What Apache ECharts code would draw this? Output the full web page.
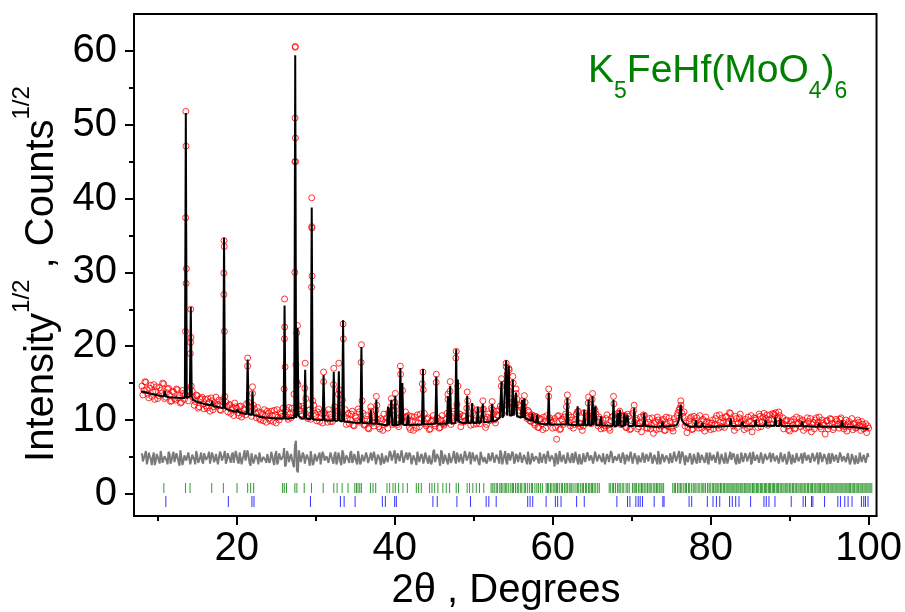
<!DOCTYPE html>
<html>
<head>
<meta charset="utf-8">
<script src="https://cdn.jsdelivr.net/npm/echarts@6/dist/echarts.min.js"></script>
<style>
    html, body { margin: 0; padding: 0; background: #fff; }
    #chart { width: 905px; height: 612px; }
</style>
</head>
<body>
<div id="chart"></div>
<script>
// ---- axis ticks ----
const xMajorTicks = [20, 40, 60, 80, 100];
const xMinorTicks = [10, 30, 50, 70, 90];
const yMajorTicks = [0, 10, 20, 30, 40, 50, 60];
const yMinorTicks = [5, 15, 25, 35, 45, 55];

// ---- observed profile, step scan from 8.00 deg, step 0.25 (two interleaved passes) ----
const scanStart = 8;
const scanStep = 0.25;
const obsY = [
    14.6, 14.0, 15.1, 13.5, 14.3, 13.2, 14.8, 13.9, 12.9, 14.4, 13.6, 14.9, 13.1, 14.2, 13.4, 12.6,
    13.8, 12.7, 14.1, 13.3, 12.4, 13.6, 13.5, 14.0, 13.8, 14.6, 13.1, 12.5, 13.3, 11.8, 12.9, 12.2,
    12.8, 11.6, 12.4, 13.0, 11.4, 12.2, 11.9, 12.7, 11.3, 12.5, 13.2, 11.8, 12.0, 10.9, 11.7, 12.3,
    11.6, 10.6, 11.9, 10.9, 11.3, 12.2, 12.4, 11.0, 13.6, 11.5, 10.3, 11.1, 10.0, 10.8, 11.4, 9.7,
    10.9, 9.9, 10.6, 11.3, 9.6, 10.4, 11.0, 10.5, 14.2, 11.4, 10.1, 10.8, 11.6, 13.5, 17.5, 14.8,
    11.3, 10.5, 11.6, 12.9, 10.2, 11.4, 36.2, 12.0, 10.6, 11.1, 9.8, 10.9, 15.2, 10.6, 9.7, 10.8,
    10.4, 14.8, 11.2, 10.9, 14.1, 11.6, 21.0, 11.4, 10.2, 9.5, 10.8, 9.3, 10.5, 9.9, 11.1, 17.8,
    10.9, 9.4, 10.1, 8.8, 11.2, 9.6, 10.4, 12.0, 9.1, 10.2, 8.6, 9.7, 10.3, 11.0, 11.8, 9.4,
    12.4, 10.0, 9.1, 16.2, 14.0, 9.8, 10.5, 10.6, 8.7, 9.9, 10.4, 8.9, 9.6, 10.8, 14.9, 10.9,
    9.2, 10.3, 8.8, 10.0, 9.5, 15.1, 10.2, 9.0, 10.6, 9.3, 10.1, 12.8, 13.9, 10.3, 11.2, 18.4,
    14.6, 10.8, 9.7, 10.5, 9.9, 12.6, 10.1, 11.7, 9.4, 10.6, 11.4, 9.5, 10.2, 11.5, 9.0, 10.4,
    9.9, 11.6, 10.8, 9.6, 10.7, 11.4, 14.6, 12.1, 14.9, 16.2, 16.8, 12.9, 15.0, 12.2, 12.8, 11.3,
    11.8, 11.0, 12.4, 10.2, 11.1, 9.8, 10.6, 9.3, 10.4, 9.0, 10.1, 8.7, 9.8, 10.6, 13.2, 10.0,
    8.9, 10.2, 7.4, 10.6, 8.8, 9.9, 10.4, 11.8, 10.7, 9.2, 10.0, 9.4, 10.8, 11.2, 9.1, 8.6,
    11.0, 9.6, 12.3, 10.9, 12.8, 11.6, 10.8, 9.2, 10.1, 9.4, 8.9, 10.2, 9.3, 8.6, 10.4, 12.2,
    10.1, 10.9, 11.2, 9.4, 10.6, 9.0, 10.8, 8.7, 9.9, 11.3, 10.0, 8.8, 9.6, 8.4, 10.7, 9.5,
    8.9, 10.2, 9.3, 8.2, 9.8, 10.4, 8.8, 9.6, 10.1, 8.6, 9.4, 10.3, 9.0, 8.5, 9.7, 10.6,
    11.4, 12.0, 10.5, 9.2, 8.3, 9.9, 10.4, 8.8, 9.6, 10.3, 8.9, 9.4, 10.1, 8.5, 9.8, 9.1,
    8.7, 10.0, 9.4, 10.6, 8.9, 9.7, 10.3, 9.0, 10.5, 9.8, 10.9, 9.5, 8.6, 10.2, 9.6, 10.8,
    9.9, 8.7, 9.5, 10.4, 9.1, 8.4, 10.3, 10.0, 9.0, 10.5, 9.7, 10.9, 10.2, 9.3, 10.7, 10.1,
    10.8, 11.0, 10.3, 10.6, 9.6, 8.8, 9.9, 9.2, 8.5, 9.7, 10.1, 8.9, 9.4, 10.2, 9.8, 8.6,
    9.5, 10.3, 9.0, 8.4, 9.7, 10.0, 9.3, 10.4, 8.8, 9.6, 8.1, 9.9, 9.2, 10.1, 8.7, 9.5,
    9.9, 8.9, 10.3, 9.6, 9.1, 8.5, 9.8, 9.3, 8.7, 9.6, 9.0, 9.7, 8.6, 9.4, 9.0, 8.3,
    8.9
];
// second pass, offset by half a step (8.125 .. 99.875)
const obsY2 = [
    13.4, 15.2, 14.1, 13.0, 14.7, 13.8, 12.8, 14.5, 13.3, 14.0, 15.0, 12.9, 13.7, 14.3, 12.5, 13.9,
    12.9, 14.2, 13.0, 12.3, 14.0, 12.8, 30.5, 12.6, 19.0, 13.9, 12.0, 13.4, 11.6, 12.8, 13.1, 11.5,
    11.9, 12.9, 11.2, 12.6, 11.8, 13.1, 12.1, 11.4, 12.6, 29.9, 12.4, 11.1, 12.1, 11.4, 10.6, 11.8,
    11.0, 11.8, 10.4, 11.5, 10.7, 17.3, 11.2, 10.5, 12.0, 10.9, 11.7, 10.2, 11.0, 9.9, 10.6, 11.2,
    10.2, 11.2, 9.8, 10.7, 11.4, 10.0, 10.8, 11.6, 17.2, 10.4, 11.7, 10.3, 11.0, 45.0, 15.1, 11.9,
    10.8, 11.9, 14.3, 10.4, 11.3, 10.1, 12.6, 10.9, 9.9, 11.5, 10.3, 9.6, 11.0, 10.2, 11.4, 9.8,
    9.8, 11.8, 10.6, 13.5, 10.3, 12.7, 10.5, 9.4, 10.9, 10.0, 11.2, 9.2, 10.3, 11.5, 9.7, 12.6,
    9.3, 10.6, 8.9, 9.9, 10.7, 9.2, 11.3, 10.1, 8.8, 9.9, 10.8, 9.5, 8.9, 10.2, 11.3, 9.6,
    11.8, 9.4, 10.9, 10.6, 9.7, 11.1, 10.0, 9.0, 10.5, 8.6, 9.8, 10.7, 9.1, 10.2, 14.1, 9.5,
    10.1, 8.7, 9.8, 10.6, 9.2, 10.3, 8.9, 10.0, 9.5, 9.6, 10.9, 10.6, 9.4, 10.8, 9.9, 12.1,
    10.4, 9.1, 10.6, 9.8, 11.6, 10.2, 9.3, 10.9, 10.0, 9.5, 9.9, 10.7, 11.4, 10.1, 9.4, 10.8,
    10.3, 11.4, 10.0, 11.2, 10.6, 11.9, 10.9, 11.3, 17.2, 14.0, 11.5, 12.4, 11.8, 13.6, 11.0, 12.0,
    12.6, 11.8, 10.7, 11.3, 9.9, 10.7, 9.6, 10.5, 9.0, 10.2, 9.5, 10.4, 8.9, 9.6, 10.3, 9.7,
    9.8, 9.0, 10.5, 8.7, 10.1, 9.4, 10.8, 12.5, 9.6, 10.4, 8.9, 10.1, 11.1, 9.5, 10.3, 9.2,
    9.7, 10.6, 10.6, 9.5, 10.7, 11.3, 9.8, 10.4, 8.8, 10.0, 9.2, 10.7, 8.9, 9.9, 10.5, 9.4,
    10.2, 10.8, 9.4, 10.3, 10.6, 9.0, 10.5, 8.8, 10.9, 9.7, 10.2, 9.1, 10.4, 9.8, 10.6, 8.9,
    9.7, 8.8, 10.3, 9.5, 8.7, 10.0, 9.2, 9.9, 8.6, 10.4, 9.1, 9.8, 8.9, 10.2, 9.4, 11.0,
    11.6, 10.9, 11.1, 9.6, 9.0, 10.2, 8.7, 10.5, 9.8, 9.3, 10.6, 8.9, 9.9, 10.4, 9.0, 9.6,
    9.6, 8.8, 10.2, 9.3, 10.7, 9.1, 9.8, 10.4, 9.5, 11.0, 10.1, 9.2, 10.5, 9.0, 10.3, 9.7,
    9.3, 10.1, 8.9, 9.8, 10.6, 9.4, 10.2, 9.6, 10.8, 9.1, 10.4, 9.9, 10.7, 10.0, 9.5, 10.9,
    10.6, 10.2, 11.1, 9.7, 10.3, 9.4, 10.0, 8.7, 9.9, 9.3, 8.8, 10.4, 9.6, 9.1, 10.0, 9.4,
    8.9, 9.8, 10.2, 9.4, 8.8, 10.3, 9.7, 9.1, 10.0, 9.3, 9.9, 8.8, 10.2, 9.5, 9.0, 10.1,
    9.4, 10.1, 9.2, 8.8, 10.0, 9.5, 9.1, 10.2, 9.4, 8.9, 10.0, 9.2, 9.8, 8.8, 9.5, 9.2
];
// observed points sitting on the narrow reflections [2theta, sqrt(I)]
const obsPeakPts = [
    [13.52, 22.0], [13.54, 37.4], [13.56, 51.8], [13.58, 47.1], [13.6, 28.5],
    [14.17, 20.5], [14.19, 25.0], [14.21, 21.2],
    [18.38, 27.0], [18.4, 34.3], [18.42, 33.5], [18.44, 22.0],
    [21.39, 18.4], [22.0, 14.5],
    [26.04, 21.0], [26.06, 26.4], [26.08, 22.6],
    [27.36, 30.0], [27.39, 50.9], [27.41, 60.5], [27.42, 60.6], [27.43, 48.2], [27.45, 45.0],
    [27.6, 21.8], [27.7, 22.8], [28.67, 17.7],
    [29.48, 28.0], [29.5, 40.1], [29.52, 36.0], [29.54, 29.5],
    [31.0, 16.5], [32.29, 17.0], [32.93, 17.7], [33.47, 23.0], [35.79, 20.2],
    [36.97, 11.8], [37.68, 13.2], [39.58, 12.9], [40.08, 13.6],
    [40.72, 17.3], [43.58, 16.5], [45.27, 16.2], [46.74, 13.5], [47.03, 15.2], [47.79, 19.3],
    [49.18, 13.8], [51.16, 12.6], [52.34, 12.5], [53.52, 15.6], [54.11, 17.7], [54.44, 17.0],
    [54.95, 15.9], [55.37, 14.2], [56.42, 13.3], [59.5, 14.2], [61.86, 13.4], [64.55, 13.1],
    [65.05, 13.6], [67.7, 13.2], [70.32, 12.0], [76.22, 12.6]
];

// ---- calculated profile: background knots + reflections [pos, top, base] ----
const calcBg = [
    [7.9, 13.9], [9, 13.6], [10, 13.35], [11.5, 13.1], [13, 13.0], [14.5, 12.7], [15, 12.45],
    [16, 12.15], [17, 11.9], [18, 11.65], [19, 11.35], [20, 11.1], [21, 10.85], [22.5, 10.6],
    [23, 10.4], [25, 10.2], [26.5, 10.2], [28.2, 10.2], [30, 10.05], [31.5, 9.95], [34.5, 9.7],
    [36.5, 9.55], [38.5, 9.35], [40.4, 9.3], [42.5, 9.35], [44.5, 9.45], [46.2, 9.5],
    [48.6, 9.6], [50.9, 9.65], [52.8, 9.9], [53.3, 10.3], [53.8, 10.6], [55.7, 10.5],
    [56.8, 10.1], [58.5, 9.5], [60.5, 9.4], [63.6, 9.3], [66.8, 9.25], [70.9, 9.2], [73, 9.1],
    [75.7, 9.3], [75.95, 9.9], [76.5, 10.0], [76.7, 9.5], [77.3, 9.1], [80, 9.1], [83, 9.2],
    [87.5, 9.25], [90, 9.2], [95, 9.1], [98, 9.05], [100, 8.8]
];
const peaks = [
    [10.9, 13.9, 13.2], [13.56, 51.6, 13.0], [14.19, 25.3, 13.2], [16.9, 12.6, 12.0],
    [18.4, 34.7, 11.6], [20.1, 11.4, 11.1], [21.39, 18.2, 10.8], [22.0, 13.9, 10.7],
    [26.06, 25.5, 10.2], [27.41, 59.4, 10.3], [27.7, 22.5, 10.6], [28.67, 16.8, 10.2],
    [29.5, 38.8, 10.1], [31.0, 16.1, 10.0], [32.29, 16.5, 9.9], [32.93, 16.6, 9.9],
    [33.47, 23.5, 9.8], [35.79, 19.9, 9.6], [36.97, 11.4, 9.5], [37.68, 12.75, 9.5],
    [39.16, 11.8, 9.3], [39.58, 12.75, 9.3], [40.08, 13.3, 9.3], [40.72, 17.05, 9.4],
    [40.97, 15.0, 9.4], [41.68, 10.7, 9.3], [43.58, 16.9, 9.4], [45.27, 15.9, 9.5],
    [46.74, 13.2, 9.5], [47.03, 14.65, 9.5], [47.79, 19.6, 9.6], [48.0, 15.5, 9.8],
    [49.18, 13.3, 9.6], [49.81, 12.3, 9.6], [50.52, 11.8, 9.6], [51.16, 12.2, 9.7],
    [52.34, 12.2, 9.8], [53.52, 15.2, 10.3], [54.11, 18.1, 10.6], [54.44, 17.3, 10.6],
    [54.95, 15.5, 10.6], [55.37, 13.7, 10.5], [56.13, 12.75, 10.3], [56.42, 12.9, 10.2],
    [57.4, 10.95, 9.9], [58.03, 10.7, 9.6], [59.5, 13.7, 9.4], [61.86, 13.0, 9.4],
    [63.16, 11.85, 9.3], [64.0, 11.4, 9.3], [64.55, 12.75, 9.3], [65.05, 13.2, 9.3],
    [65.4, 11.85, 9.3], [66.11, 10.5, 9.3], [67.7, 12.75, 9.2], [68.21, 10.95, 9.2],
    [68.51, 11.4, 9.2], [69.06, 10.95, 9.2], [69.48, 10.7, 9.2], [70.32, 11.6, 9.2],
    [71.59, 10.95, 9.2], [73.9, 9.8, 9.1], [76.22, 12.1, 10.0], [78.12, 10.0, 9.1],
    [78.96, 9.6, 9.1], [82.54, 10.3, 9.2], [84.0, 9.8, 9.2], [85.7, 10.0, 9.2],
    [86.96, 10.0, 9.2], [88.2, 10.4, 9.2], [88.85, 10.2, 9.2], [91.58, 9.8, 9.2],
    [93.7, 9.6, 9.1], [96.64, 9.9, 9.1]
];
const PEAK_HW = 0.12;

// ---- difference curve (obs - calc + offset), both passes ----
const diffY = [
    5.5, 4.2, 5.8, 4.6, 5.1, 3.9, 5.6, 4.4, 5.3, 4.1, 5.9, 4.7, 5.2, 4.0, 5.4, 4.5,
    5.7, 4.3, 5.0, 3.8, 6.1, 4.4, 5.3, 4.6, 5.8, 4.2, 5.5, 4.0, 5.2, 4.5, 5.6, 4.1,
    5.3, 4.4, 5.7, 4.0, 5.1, 4.6, 5.5, 3.9, 5.4, 4.3, 5.8, 4.5, 5.0, 4.2, 5.6, 4.4,
    5.2, 4.1, 5.5, 4.7, 5.9, 4.3, 5.1, 3.8, 5.4, 4.6, 5.3, 4.0, 5.7, 4.4, 5.0, 4.2,
    5.6, 4.5, 5.2, 3.9, 5.8, 4.3, 5.4, 4.6, 6.2, 4.0, 5.3, 4.4, 5.5, 3.6, 7.2, 2.9,
    5.9, 4.1, 5.2, 4.7, 5.5, 3.8, 6.0, 4.2, 5.1, 4.5, 5.6, 4.0, 5.3, 4.6, 5.0, 4.3,
    5.4, 4.1, 5.7, 4.4, 5.1, 3.9, 5.5, 4.6, 5.2, 4.2, 5.8, 4.5, 5.0, 4.0, 5.6, 4.3,
    5.3, 4.5, 5.1, 4.0, 5.6, 4.3, 5.0, 4.6, 5.4, 3.9, 5.7, 4.4, 5.2, 4.1, 5.5, 4.3,
    5.9, 4.2, 5.3, 4.6, 5.0, 4.0, 5.6, 4.4, 5.2, 4.5, 5.4, 3.9, 5.7, 4.3, 5.1, 4.6,
    5.5, 4.1, 5.2, 4.4, 6.0, 4.2, 5.3, 3.8, 5.6, 4.5, 5.1, 4.0, 5.4, 4.3, 5.8, 4.1,
    5.2, 4.6, 5.5, 4.0, 5.3, 4.4, 5.7, 4.2, 5.0, 4.5, 5.4, 3.9, 5.6, 4.3, 5.1, 4.5,
    5.3, 4.2, 5.6, 4.4, 5.0, 4.1, 5.5, 4.6, 5.8, 4.0, 5.2, 4.3, 5.4, 4.5, 5.1, 4.2,
    5.5, 4.4, 5.2, 4.0, 5.6, 4.3, 5.0, 4.5, 5.3, 4.1, 5.7, 4.4, 5.1, 4.2, 5.9, 4.3,
    5.4, 3.7, 5.2, 4.5, 5.6, 4.1, 5.3, 4.4, 5.0, 4.2, 5.5, 4.6, 5.1, 4.0, 5.4, 4.3,
    5.7, 4.2, 5.3, 4.5, 5.1, 4.0, 5.5, 4.4, 5.2, 4.3, 5.6, 4.1, 5.0, 4.5, 5.4, 4.2,
    5.3, 4.4, 5.6, 4.1, 5.2, 4.5, 5.0, 4.2, 5.5, 4.3, 5.1, 4.0, 5.4, 4.6, 5.2, 4.1,
    5.5, 4.3, 5.1, 4.5, 5.3, 4.0, 5.6, 4.2, 5.0, 4.4, 5.2, 4.1, 5.5, 4.3, 5.1, 4.5,
    5.8, 4.2, 5.4, 3.9, 5.2, 4.5, 5.0, 4.3, 5.5, 4.1, 5.3, 4.4, 5.1, 4.2, 5.6, 4.0,
    5.2, 4.4, 5.5, 4.2, 5.0, 4.6, 5.3, 4.1, 5.4, 4.3, 5.7, 4.5, 5.1, 4.0, 5.3, 4.4,
    5.5, 4.1, 5.2, 4.4, 5.6, 4.3, 5.0, 4.5, 5.3, 4.0, 5.4, 4.2, 5.1, 4.4, 5.6, 4.2,
    5.3, 4.5, 5.0, 4.1, 5.5, 4.3, 5.2, 4.4, 5.4, 4.0, 5.1, 4.6, 5.3, 4.2, 5.5, 4.3,
    5.1, 4.4, 5.4, 4.1, 5.2, 4.5, 5.6, 4.2, 5.0, 4.3, 5.3, 4.0, 5.5, 4.4, 5.1, 4.2,
    5.4, 4.3, 5.2, 4.5, 5.0, 4.1, 5.5, 4.4, 5.3, 4.0, 5.2, 4.4, 5.6, 4.1, 5.3, 4.4,
    5.0
];
const diffY2 = [
    4.4, 5.3, 4.0, 5.6, 4.7, 5.0, 3.9, 5.4, 4.6, 5.8, 4.2, 5.1, 4.5, 5.7, 4.1, 5.2,
    4.3, 5.5, 4.8, 5.9, 3.9, 5.2, 4.5, 5.6, 4.0, 5.3, 4.6, 5.8, 4.2, 5.0, 4.4, 5.5,
    4.6, 5.1, 4.1, 5.6, 4.3, 5.4, 4.0, 5.7, 4.5, 5.2, 4.1, 5.5, 4.7, 5.3, 4.2, 5.8,
    4.4, 5.6, 4.0, 5.2, 4.5, 5.9, 4.2, 5.5, 4.1, 5.3, 4.7, 5.6, 4.3, 5.0, 4.6, 5.4,
    4.2, 5.7, 4.4, 5.3, 4.0, 5.5, 4.6, 5.1, 3.7, 5.8, 4.3, 5.4, 4.1, 6.6, 3.2, 5.9,
    4.3, 5.6, 4.1, 5.3, 4.6, 5.8, 3.9, 5.4, 4.4, 5.2, 4.0, 5.7, 4.5, 5.1, 4.2, 5.6,
    4.5, 5.3, 4.0, 5.6, 4.3, 5.9, 4.1, 5.2, 4.6, 5.5, 4.2, 5.4, 4.4, 5.8, 4.0, 5.3,
    4.4, 5.6, 4.2, 5.1, 4.5, 5.7, 4.0, 5.3, 4.6, 5.5, 4.1, 5.2, 4.3, 5.8, 4.5, 5.4,
    4.1, 5.5, 4.4, 5.9, 4.2, 5.3, 4.6, 5.6, 4.0, 5.2, 4.5, 5.7, 4.3, 5.4, 4.1, 5.6,
    4.5, 5.2, 4.0, 5.7, 4.3, 5.4, 4.6, 5.9, 4.1, 5.3, 4.4, 5.5, 4.2, 5.1, 4.6, 5.6,
    4.3, 5.4, 4.1, 5.8, 4.5, 5.2, 4.0, 5.6, 4.4, 5.3, 4.2, 5.7, 4.6, 5.0, 4.1, 5.5,
    4.4, 5.6, 4.2, 5.3, 4.6, 5.9, 4.0, 5.2, 4.3, 5.5, 4.5, 5.7, 4.1, 5.4, 4.3, 5.6,
    4.2, 5.3, 4.5, 5.7, 4.0, 5.5, 4.4, 5.1, 4.6, 5.6, 4.2, 5.4, 4.1, 5.8, 4.4, 5.2,
    4.6, 5.5, 4.0, 5.8, 4.3, 5.3, 4.1, 5.6, 4.5, 5.2, 4.2, 5.7, 4.4, 5.4, 4.0, 5.5,
    4.3, 5.6, 4.5, 5.2, 4.1, 5.7, 4.4, 5.3, 4.6, 5.5, 4.0, 5.4, 4.3, 5.8, 4.2, 5.1,
    4.5, 5.4, 4.2, 5.6, 4.0, 5.3, 4.4, 5.7, 4.1, 5.5, 4.6, 5.2, 4.3, 5.6, 4.2, 5.4,
    4.4, 5.6, 4.1, 5.3, 4.5, 5.8, 4.0, 5.4, 4.3, 5.2, 4.6, 5.5, 4.2, 5.7, 4.4, 5.3,
    4.1, 5.7, 4.6, 5.2, 4.3, 5.5, 4.0, 5.4, 4.4, 5.6, 4.2, 5.3, 4.5, 5.1, 4.3, 5.6,
    4.5, 5.3, 4.2, 5.7, 4.0, 5.4, 4.4, 5.6, 4.1, 5.2, 4.6, 5.5, 4.3, 5.4, 4.1, 5.6,
    4.3, 5.5, 4.4, 5.2, 4.0, 5.7, 4.5, 5.3, 4.2, 5.6, 4.1, 5.4, 4.6, 5.1, 4.3, 5.5,
    4.4, 5.2, 4.1, 5.6, 4.3, 5.4, 4.0, 5.7, 4.5, 5.3, 4.2, 5.5, 4.4, 5.0, 4.1, 5.6,
    4.5, 5.3, 4.2, 5.5, 4.4, 5.1, 4.0, 5.6, 4.3, 5.4, 4.6, 5.2, 4.1, 5.5, 4.4, 5.3,
    4.2, 5.6, 4.4, 5.1, 4.3, 5.5, 4.0, 5.4, 4.5, 5.2, 4.1, 5.6, 4.3, 5.3, 4.2, 5.5
];

// ---- Bragg reflection markers ----
const phase1Ticks = [
    10.78, 13.51, 14.1, 16.84, 18.31, 20.04, 21.39, 21.77, 22.15, 25.81, 26.02, 26.31,
    27.37, 27.62, 28.55, 29.47, 30.95, 32.29, 32.71, 33.35, 34.1, 34.95, 35.16, 35.36,
    35.58, 35.79, 36.93, 37.26, 37.6, 39.03, 39.37, 39.79, 40.08, 40.5, 41.05, 41.6,
    42.74, 43.03, 43.37, 44.42, 44.72, 45.06, 45.47, 46.1, 46.53, 46.95, 47.79, 48.08,
    49.18, 49.48, 49.9, 50.33, 50.74, 51.28,
    52.21, 52.42, 52.6, 52.85, 53.02, 53.3, 53.48, 53.6, 53.85, 54.05, 54.2, 54.44, 54.7,
    54.9, 55.05, 55.3, 55.52, 55.7, 55.95, 56.1, 56.4, 56.55, 56.8, 57.05, 57.3, 57.45,
    57.75, 58.0, 58.2, 58.45, 58.7,
    59.17, 59.35, 59.5, 59.72, 59.9, 60.15, 60.3, 60.5, 60.62, 60.85, 61.1, 61.25, 61.5,
    61.7, 61.86, 62.1, 62.3, 62.45, 62.7, 62.95, 63.16, 63.3, 63.55, 63.75, 63.9, 64.15,
    64.3, 64.55, 64.7, 64.9, 65.05, 65.25, 65.45, 65.7, 65.9,
    67.16, 67.35, 67.6, 67.72, 67.95, 68.2, 68.4, 68.55, 68.8, 69.0, 69.3, 69.5, 69.7,
    70.1, 70.3, 70.45, 70.6, 70.85, 71.05, 71.25, 71.4, 71.6, 71.8, 72.0, 72.2, 72.35,
    72.55, 72.8, 72.95, 73.15, 73.3, 73.5, 73.7, 73.85, 74.05,
    75.2, 75.4, 75.55, 75.8, 76.0, 76.2, 76.35, 76.6, 76.8, 76.95, 77.2, 77.35, 77.6,
    77.8, 78.0, 78.15, 78.4, 78.55, 78.8, 79.0, 79.15, 79.35, 79.6, 79.8, 79.95, 80.2,
    80.35, 80.55, 80.7, 80.9, 81.05, 81.25, 81.4, 81.6, 81.75, 81.95, 82.1, 82.3, 82.45,
    82.6, 82.8, 82.95, 83.1, 83.3, 83.45, 83.6, 83.8, 83.95, 84.1, 84.3, 84.45, 84.6,
    84.75, 84.95, 85.1, 85.3, 85.45, 85.6, 85.8, 85.95, 86.1, 86.3, 86.45, 86.6, 86.8,
    86.95, 87.1, 87.3, 87.45, 87.6, 87.8, 87.95, 88.1, 88.3, 88.45, 88.6, 88.8, 88.95,
    89.15, 89.3, 89.5, 89.65, 89.8, 90.0, 90.15, 90.35, 90.5, 90.7, 90.85, 91.05, 91.2,
    91.4, 91.55, 91.7, 91.9, 92.05, 92.25, 92.4, 92.6, 92.75, 92.9, 93.1, 93.25, 93.45,
    93.6, 93.75, 93.9, 94.1, 94.25, 94.4, 94.6, 94.75, 94.9, 95.1, 95.25, 95.4, 95.6,
    95.75, 95.9, 96.1, 96.25, 96.4, 96.6, 96.75, 96.9, 97.1, 97.25, 97.4, 97.55, 97.7,
    97.9, 98.05, 98.2, 98.4, 98.55, 98.7, 98.9, 99.05, 99.2, 99.4, 99.55, 99.7, 99.9,
    100.05, 100.2, 100.4
];
const phase2Ticks = [
    11.03, 18.94, 21.93, 22.19, 29.34, 33.13, 33.6, 34.99, 38.44, 38.82, 40.0, 40.21,
    44.84, 45.39, 47.88, 49.6, 51.58, 51.92, 52.85, 56.84, 57.14, 57.48, 59.17, 60.34,
    60.63, 61.06, 63.03, 64.0, 68.13, 69.48, 69.78, 70.53, 70.83, 71.08, 71.37, 72.85,
    73.95, 74.1, 77.27, 77.6, 79.58, 80.3, 80.73, 81.15, 82.4, 82.74, 83.17, 83.59,
    85.06, 86.75, 87.04, 87.38, 88.14, 90.2, 91.71, 92.01, 92.77, 92.94, 94.42, 96.1,
    96.43, 96.98, 97.4, 97.9, 99.09, 99.38, 99.6, 99.92
];
const PHASE1_ROW = 0.8;
const PHASE2_ROW = -1.05;

const FONT = "'Liberation Sans', Arial, sans-serif";

/** build series data from the arrays above */
const onGrid = (arr, offset) => arr.map((y, i) => [scanStart + offset + i * scanStep, y]);
const byX = (a, b) => a[0] - b[0];

const obsData = onGrid(obsY, 0).concat(onGrid(obsY2, scanStep / 2), obsPeakPts);
const diffData = onGrid(diffY, 0).concat(onGrid(diffY2, scanStep / 2)).sort(byX);
const calcData = calcBg.slice();
peaks.forEach(([pos, top, base]) => {
    calcData.push([pos - PEAK_HW, base], [pos, top], [pos + PEAK_HW, base]);
});
calcData.sort(byX);

const chart = echarts.init(document.getElementById('chart'));

const tickStyle = { color: '#000', width: 2 };

chart.setOption({
    animation: false,
    backgroundColor: '#fff',
    grid: {
        left: 134,
        right: 27,
        top: 14,
        bottom: 96,
        show: true,
        borderColor: '#000',
        borderWidth: 2,
        backgroundColor: 'rgba(0,0,0,0)',
    },
    xAxis: [
        {
            type: 'value',
            min: 7,
            max: 101,
            position: 'bottom',
            splitLine: { show: false },
            axisLine: { show: true, onZero: false, lineStyle: tickStyle },
            axisTick: { show: true, length: 9, lineStyle: tickStyle, customValues: xMajorTicks },
            axisLabel: { color: '#000', fontSize: 40, fontFamily: FONT, margin: 13, customValues: xMajorTicks },
        },
        {
            // minor ticks
            type: 'value',
            min: 7,
            max: 101,
            position: 'bottom',
            offset: 0,
            splitLine: { show: false },
            axisLine: { show: false, onZero: false },
            axisTick: { show: true, length: 5, lineStyle: tickStyle, customValues: xMinorTicks },
            axisLabel: { show: false },
        },
    ],
    yAxis: [
        {
            type: 'value',
            min: -3,
            max: 65,
            position: 'left',
            splitLine: { show: false },
            axisLine: { show: true, onZero: false, lineStyle: tickStyle },
            axisTick: { show: true, length: 9, lineStyle: tickStyle, customValues: yMajorTicks },
            axisLabel: { color: '#000', fontSize: 40, fontFamily: FONT, margin: 17, customValues: yMajorTicks },
        },
        {
            // minor ticks
            type: 'value',
            min: -3,
            max: 65,
            position: 'left',
            offset: 0,
            splitLine: { show: false },
            axisLine: { show: false, onZero: false },
            axisTick: { show: true, length: 5, lineStyle: tickStyle, customValues: yMinorTicks },
            axisLabel: { show: false },
        },
    ],
    series: [
        {
            name: 'Observed',
            type: 'scatter',
            data: obsData,
            symbol: 'circle',
            symbolSize: 6,
            itemStyle: { color: 'rgba(255,255,255,0)', borderColor: '#ff0000', borderWidth: 1 },
            silent: true,
            z: 2,
        },
        {
            name: 'Calculated',
            type: 'line',
            data: calcData,
            symbol: 'none',
            lineStyle: { color: '#000', width: 2 },
            silent: true,
            z: 3,
        },
        {
            name: 'Difference',
            type: 'line',
            data: diffData,
            symbol: 'none',
            lineStyle: { color: '#7a7a7a', width: 2 },
            silent: true,
            z: 3,
        },
        {
            name: 'Phase 1',
            type: 'scatter',
            data: phase1Ticks.map(x => [x, PHASE1_ROW]),
            symbol: 'rect',
            symbolSize: [1, 10],
            itemStyle: { color: '#008000' },
            silent: true,
            z: 3,
        },
        {
            name: 'Phase 2',
            type: 'scatter',
            data: phase2Ticks.map(x => [x, PHASE2_ROW]),
            symbol: 'rect',
            symbolSize: [1, 11],
            itemStyle: { color: '#0000ff' },
            silent: true,
            z: 3,
        },
    ],
    graphic: [
        {
            type: 'text',
            x: 506,
            y: 611,
            style: {
                text: '2θ , Degrees',
                fill: '#000',
                font: '40px ' + FONT,
                align: 'center',
                verticalAlign: 'bottom',
            },
        },
        {
            type: 'text',
            x: 62,
            y: 274,
            rotation: Math.PI / 2,
            style: {
                text: '{m|Intensity}{s|1/2}{m| , Counts}{s|1/2}',
                fill: '#000',
                align: 'center',
                verticalAlign: 'bottom',
                rich: {
                    m: { fontSize: 40, fontFamily: FONT, lineHeight: 40, verticalAlign: 'bottom' },
                    s: { fontSize: 24, fontFamily: FONT, lineHeight: 24, verticalAlign: 'bottom', padding: [0, 0, 28, 0] },
                },
            },
        },
        {
            type: 'text',
            x: 588,
            y: 52,
            style: {
                text: '{m|K}{b|5}{m|FeHf(MoO}{b|4}{m|)}{b|6}',
                fill: '#008000',
                align: 'left',
                verticalAlign: 'top',
                rich: {
                    m: { fontSize: 39, fontFamily: FONT, lineHeight: 39, verticalAlign: 'top', fill: '#008000' },
                    b: { fontSize: 23, fontFamily: FONT, lineHeight: 23, verticalAlign: 'top', padding: [28, 0, 0, 0], fill: '#008000' },
                },
            },
        },
    ],
});
</script>
</body>
</html>
